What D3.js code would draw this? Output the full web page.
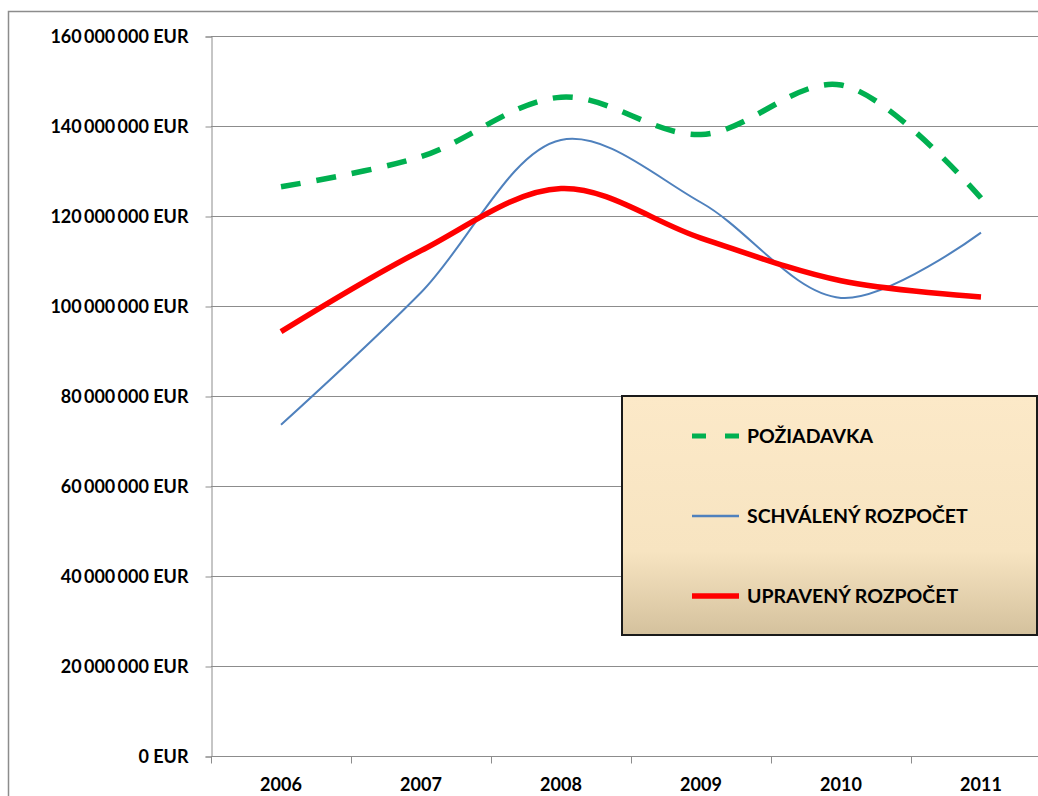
<!DOCTYPE html>
<html>
<head>
<meta charset="utf-8">
<script src="https://cdn.jsdelivr.net/npm/d3@7"></script>
<style>
  body { margin: 0; background: #fff; }
  text { font-family: Lato, "Open Sans", sans-serif; font-weight: bold; fill: #000; }
</style>
</head>
<body>
<svg id="chart" width="1038" height="796"></svg>
<script>
// data
const years = ['2006', '2007', '2008', '2009', '2010', '2011'];
const poziadavka = [126.5e6, 133.2e6, 146.4e6, 138.1e6, 149.1e6, 124.0e6];
const schvaleny = [73.6e6, 103.0e6, 136.9e6, 123.0e6, 101.8e6, 116.3e6];
const upraveny = [94.3e6, 112.3e6, 126.1e6, 115.1e6, 105.6e6, 102.0e6];
const yTicks = [0, 20e6, 40e6, 60e6, 80e6, 100e6, 120e6, 140e6, 160e6];
const seriesNames = ['POŽIADAVKA', 'SCHVÁLENÝ ROZPOČET', 'UPRAVENÝ ROZPOČET'];

const svg = d3.select('#chart');
const plotL = 211, plotR = 1051, plotT = 36, plotB = 756;

const x = d3.scaleBand().domain(years).range([plotL, plotR]);
const y = d3.scaleLinear().domain([0, 160e6]).range([plotB, plotT]);

const loc = d3.formatLocale({ decimal: ',', thousands: '\u2009', grouping: [3], currency: ['', ' EUR'] });
const fmt = v => loc.format(',')(v) + ' EUR';

// outer chart frame
svg.append('rect')
  .attr('x', 8.5).attr('y', 11.5).attr('width', 1100).attr('height', 900)
  .attr('fill', 'none').attr('stroke', '#8c8c8c').attr('stroke-width', 1.5);

// gridlines
svg.append('g').selectAll('line').data(yTicks.slice(1)).join('line')
  .attr('x1', plotL).attr('x2', plotR)
  .attr('y1', d => y(d) + 0.5).attr('y2', d => y(d) + 0.5)
  .attr('stroke', '#8c8c8c');

// y axis
const yAxis = svg.append('g').attr('transform', `translate(${plotL + 0.5},0.5)`)
  .call(d3.axisLeft(y).tickValues(yTicks).tickFormat(fmt).tickSize(6).tickPadding(17));
yAxis.select('.domain').attr('stroke', '#8c8c8c');
yAxis.selectAll('.tick line').attr('stroke', '#8c8c8c');
yAxis.selectAll('text').style('font-size', '18px').attr('dy', '0.36em');

// x axis
const xAxis = svg.append('g').attr('transform', `translate(0,${plotB + 0.5})`);
xAxis.append('line').attr('x1', plotL).attr('x2', plotR).attr('stroke', '#8c8c8c');
xAxis.selectAll('line.tk').data(years.concat(['end'])).join('line').attr('class', 'tk')
  .attr('x1', (d, i) => (i < years.length ? x(d) : plotR) + 0.5)
  .attr('x2', (d, i) => (i < years.length ? x(d) : plotR) + 0.5)
  .attr('y1', 0).attr('y2', 7).attr('stroke', '#8c8c8c');
xAxis.selectAll('text').data(years).join('text')
  .attr('x', d => x(d) + x.bandwidth() / 2).attr('y', 34)
  .attr('text-anchor', 'middle').style('font-size', '18px').text(d => d);

// lines
const line = d3.line()
  .x((d, i) => x(years[i]) + x.bandwidth() / 2)
  .y(d => y(d))
  .curve(d3.curveCatmullRom.alpha(0.5));

svg.append('path').datum(schvaleny).attr('d', line)
  .attr('fill', 'none').attr('stroke', '#4f81bd').attr('stroke-width', 2);
svg.append('path').datum(upraveny).attr('d', line)
  .attr('fill', 'none').attr('stroke', '#ff0000').attr('stroke-width', 5.5);
svg.append('path').datum(poziadavka).attr('d', line)
  .attr('fill', 'none').attr('stroke', '#00b050').attr('stroke-width', 5.5)
  .attr('stroke-dasharray', '20 16');

// legend
const defs = svg.append('defs');
const grad = defs.append('linearGradient').attr('id', 'lg').attr('x1', 0).attr('x2', 0).attr('y1', 0).attr('y2', 1);
grad.append('stop').attr('offset', '0%').attr('stop-color', '#fce9c8');
grad.append('stop').attr('offset', '65%').attr('stop-color', '#f7e4c1');
grad.append('stop').attr('offset', '100%').attr('stop-color', '#d4c19d');

const lg = svg.append('g').attr('transform', 'translate(622,396)');
lg.append('rect').attr('width', 415).attr('height', 239)
  .attr('fill', 'url(#lg)').attr('stroke', '#1a1a1a').attr('stroke-width', 2);
const styles = [
  { c: '#00b050', w: 5, dash: '14 19' },
  { c: '#4f81bd', w: 2.5, dash: null },
  { c: '#ff0000', w: 5.5, dash: null }
];
seriesNames.forEach((name, i) => {
  const yy = 40 + i * 80;
  lg.append('line').attr('x1', 70).attr('x2', 117).attr('y1', yy).attr('y2', yy)
    .attr('stroke', styles[i].c).attr('stroke-width', styles[i].w)
    .attr('stroke-dasharray', styles[i].dash);
  lg.append('text').attr('x', 125).attr('y', yy).attr('dy', '0.36em')
    .style('font-size', '19.5px').text(name);
});
</script>
</body>
</html>
